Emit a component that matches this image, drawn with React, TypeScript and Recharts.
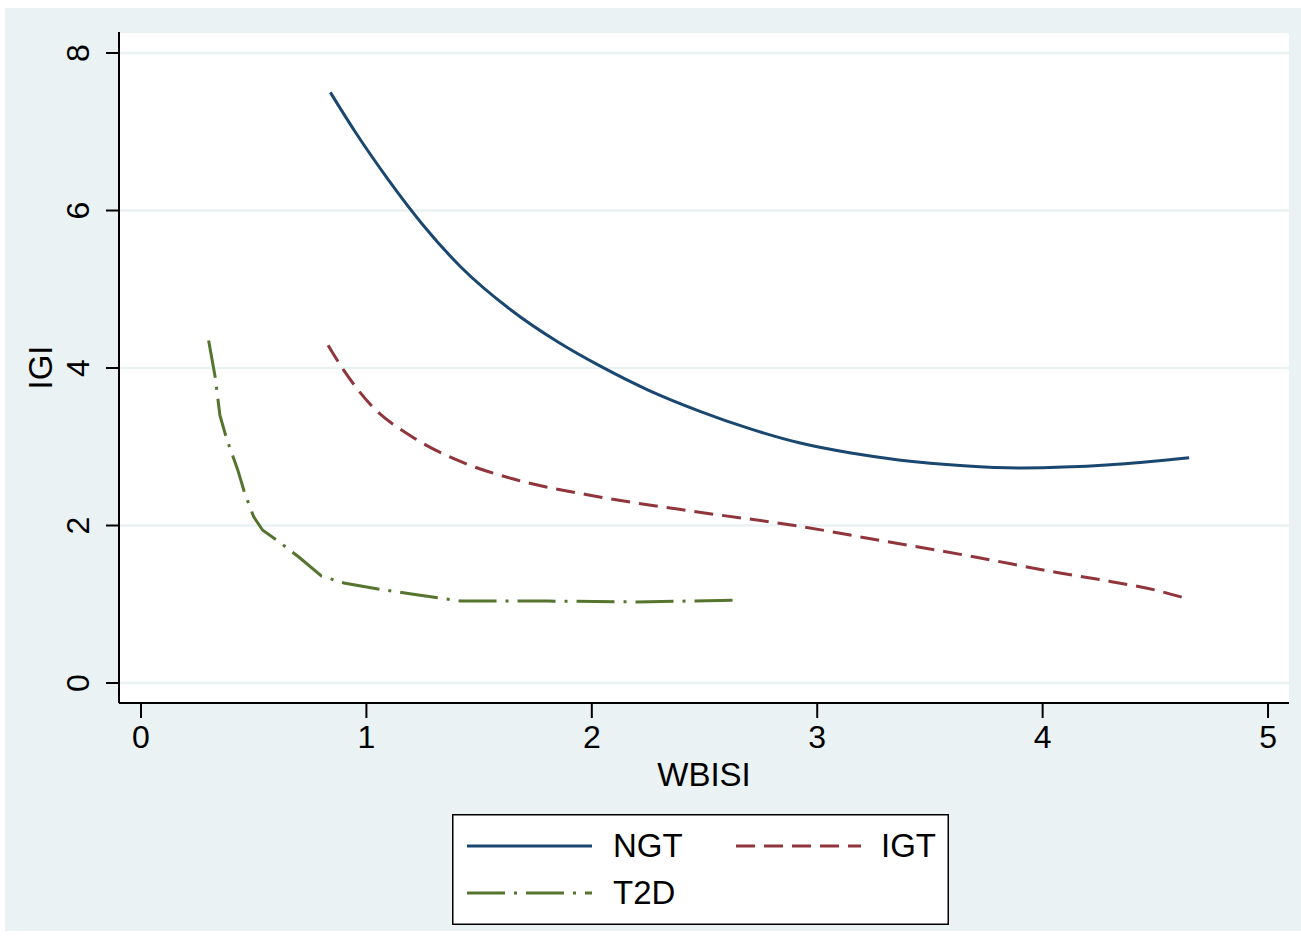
import React from 'react';
import { LineChart, Line, XAxis, YAxis, CartesianGrid, Legend } from 'recharts';

const FONT = '"Liberation Sans", Arial, Helvetica, sans-serif';

const ngtX = [0.84, 0.95, 1.1, 1.25, 1.42, 1.64, 1.85, 2.04, 2.25, 2.48, 2.7, 2.92, 3.15, 3.37, 3.65, 3.91, 4.3, 4.65];
const ngtY = [7.5, 7.0, 6.38, 5.82, 5.28, 4.74, 4.33, 4.02, 3.72, 3.45, 3.23, 3.05, 2.92, 2.83, 2.76, 2.73, 2.77, 2.86];

const igtX = [0.83, 0.9, 1.03, 1.19, 1.42, 1.64, 2.04, 2.5, 2.9, 3.3, 3.7, 4.07, 4.3, 4.5, 4.63];
const igtY = [4.29, 3.97, 3.5, 3.15, 2.81, 2.6, 2.36, 2.16, 2.0, 1.8, 1.6, 1.4, 1.29, 1.18, 1.08];

const t2dX = [0.3, 0.33, 0.35, 0.38, 0.43, 0.46, 0.5, 0.54, 0.6, 0.7, 0.8, 0.9, 1.06, 1.2, 1.42, 1.8, 2.2, 2.64];
const t2dY = [4.35, 3.87, 3.4, 3.1, 2.7, 2.41, 2.11, 1.94, 1.82, 1.6, 1.36, 1.27, 1.19, 1.13, 1.04, 1.04, 1.03, 1.05];

const xTicks = [0, 1, 2, 3, 4, 5];
const yTicks = [0, 2, 4, 6, 8];

const toPts = (xs: number[], ys: number[]) => xs.map((x, i) => ({ x, y: ys[i] }));
const ngtData = toPts(ngtX, ngtY);
const igtData = toPts(igtX, igtY);
const t2dData = toPts(t2dX, t2dY);

const COLORS = { NGT: '#1a476f', IGT: '#90353b', T2D: '#55752f' };
const DASH: Record<string, string | undefined> = { NGT: undefined, IGT: '19 9', T2D: '38 9 3 9' };

const YTick = (props: any) => {
  const { x, y, payload } = props;
  return (
    <text x={x} y={y} transform={`rotate(-90, ${x}, ${y})`} textAnchor="middle" fontSize={32} fontFamily={FONT} fill="#000">
      {payload.value}
    </text>
  );
};

const XTick = (props: any) => {
  const { x, y, payload } = props;
  return (
    <text x={x} y={y} dy="0.71em" textAnchor="middle" fontSize={32} fontFamily={FONT} fill="#000">
      {payload.value}
    </text>
  );
};

const YLabel = (props: any) => {
  const vb = props.viewBox || {};
  const x = vb.x + 52;
  const y = vb.y + vb.height / 2;
  return (
    <text x={x} y={y} transform={`rotate(-90, ${x}, ${y})`} textAnchor="middle" fontSize={33} fontFamily={FONT} fill="#000">
      IGI
    </text>
  );
};

const XLabel = (props: any) => {
  const vb = props.viewBox || {};
  return (
    <text x={vb.x + vb.width / 2} y={vb.y + 83} textAnchor="middle" fontSize={33} fontFamily={FONT} fill="#000">
      WBISI
    </text>
  );
};

const renderLegend = (props: any) => {
  const payload = props.payload || [];
  const pos: Record<string, { lx: number; ly: number; tx: number }> = {
    NGT: { lx: 15, ly: 32, tx: 161 },
    IGT: { lx: 284, ly: 32, tx: 429 },
    T2D: { lx: 15, ly: 79, tx: 161 },
  };
  return (
    <svg width={497} height={111} style={{ display: 'block' }}>
      <rect x={0.75} y={0.75} width={495.5} height={109.5} fill="#fff" stroke="#000" strokeWidth={1.5} />
      {payload.map((p: any) => {
        const name = String(p.value);
        const q = pos[name];
        if (!q) return null;
        return (
          <g key={name}>
            <line x1={q.lx} x2={q.lx + 125} y1={q.ly} y2={q.ly} stroke={p.color} strokeWidth={3} strokeDasharray={DASH[name]} />
            <text x={q.tx} y={q.ly + 11} fontSize={33} fontFamily={FONT} fill="#000">
              {name}
            </text>
          </g>
        );
      })}
    </svg>
  );
};

export default function App() {
  return (
    <div style={{ position: 'absolute', left: 0, top: 0, width: 1301, height: 937, background: '#fff', overflow: 'hidden' }}>
      <div style={{ position: 'absolute', left: 5, top: 8, width: 1296, height: 923, background: '#eaf2f3' }} />
      <div style={{ position: 'absolute', left: 0, top: 0 }}>
        <LineChart width={1301} height={937} margin={{ top: 32, right: 12, bottom: 0, left: 0 }}>
          <CartesianGrid vertical={false} horizontal={true} fill="#fff" stroke="#eaf2f3" strokeWidth={2.5} />
          <XAxis
            type="number"
            dataKey="x"
            domain={[-0.0976, 5.093]}
            ticks={xTicks}
            allowDataOverflow
            height={234}
            tickSize={15}
            tickMargin={7}
            tick={<XTick />}
            axisLine={{ stroke: '#000', strokeWidth: 2 }}
            tickLine={{ stroke: '#000', strokeWidth: 2 }}
            label={<XLabel />}
          />
          <YAxis
            type="number"
            dataKey="y"
            domain={[-0.254, 8.267]}
            ticks={yTicks}
            allowDataOverflow
            width={119}
            tickSize={13}
            tickMargin={17}
            tick={<YTick />}
            axisLine={{ stroke: '#000', strokeWidth: 2 }}
            tickLine={{ stroke: '#000', strokeWidth: 2 }}
            label={<YLabel />}
          />
          <Legend
            layout="vertical"
            align="center"
            verticalAlign="middle"
            content={renderLegend}
            wrapperStyle={{ position: 'absolute', left: 452, top: 814, width: 497, height: 111 }}
          />
          <Line data={ngtData} dataKey="y" name="NGT" type="monotone" stroke={COLORS.NGT} strokeWidth={3} dot={false} isAnimationActive={false} />
          <Line data={igtData} dataKey="y" name="IGT" type="monotone" stroke={COLORS.IGT} strokeWidth={3} strokeDasharray={DASH.IGT} dot={false} isAnimationActive={false} />
          <Line data={t2dData} dataKey="y" name="T2D" type="linear" stroke={COLORS.T2D} strokeWidth={3} strokeDasharray={DASH.T2D} dot={false} isAnimationActive={false} />
        </LineChart>
      </div>
    </div>
  );
}
